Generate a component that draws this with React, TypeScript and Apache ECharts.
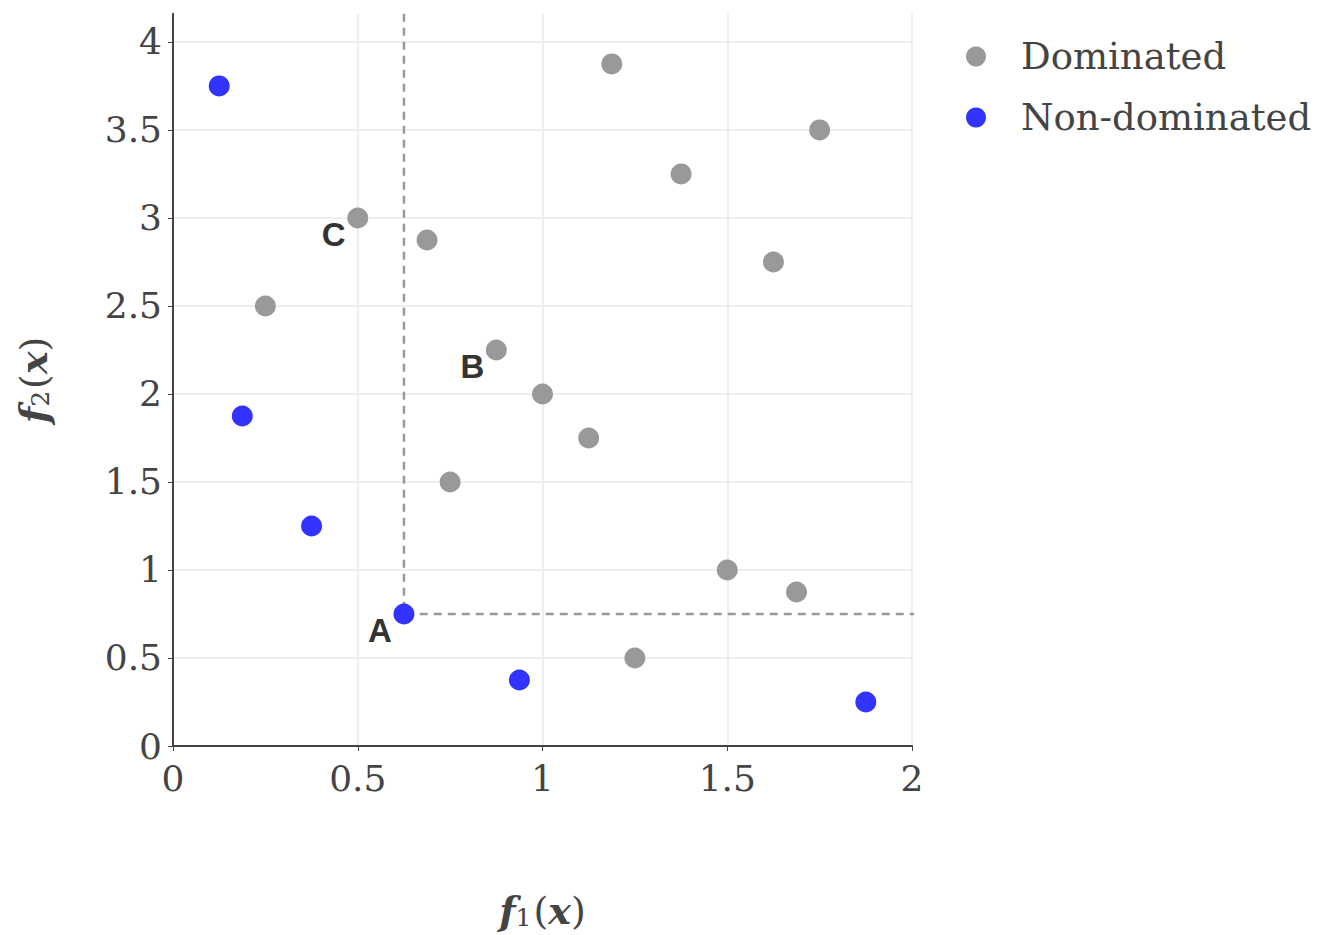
import React, { useEffect, useRef } from "react";
import * as echarts from "echarts";

const dominatedF1 = [1.1875, 1.75, 1.375, 0.5, 0.6875, 1.625, 0.25, 0.875, 1, 1.125, 0.75, 1.5, 1.6875, 1.25];
const dominatedF2 = [3.875, 3.5, 3.25, 3, 2.875, 2.75, 2.5, 2.25, 2, 1.75, 1.5, 1, 0.875, 0.5];
const nonDominatedF1 = [0.125, 0.1875, 0.375, 0.625, 0.9375, 1.875];
const nonDominatedF2 = [3.75, 1.875, 1.25, 0.75, 0.375, 0.25];
const annotationNames = ["A", "B", "C"];
const annotationF1 = [0.625, 0.875, 0.5];
const annotationF2 = [0.75, 2.25, 3];
const xTicks = [0, 0.5, 1, 1.5, 2];
const yTicks = [0, 0.5, 1, 1.5, 2, 2.5, 3, 3.5, 4];
const xMax = 2;
const yMax = 4.16;
const boxEndX = 2.02;

const TICK_FONT = "'DejaVu Serif', 'Liberation Serif', serif";

export default function App() {
  const ref = useRef<HTMLDivElement>(null);
  useEffect(() => {
    if (!ref.current) return;
    document.body.style.margin = "0";
    const chart = echarts.init(ref.current, null, { renderer: "svg" });
    const A = { x: annotationF1[0], y: annotationF2[0] };
    const nameRich = {
      i: { fontFamily: TICK_FONT, fontStyle: "italic", fontWeight: 600, fontSize: 38, color: "#444" },
      s: { fontFamily: TICK_FONT, fontSize: 25, color: "#444", verticalAlign: "bottom", padding: [14, 2, 0, 0] },
      n: { fontFamily: TICK_FONT, fontSize: 38, color: "#444" },
    };
    const labelFmt = (v: number) => (yTicks.includes(v) || xTicks.includes(v) ? String(v) : "");
    chart.setOption({
      animation: false,
      backgroundColor: "#fff",
      grid: { left: 173, right: 428, top: 13.8, bottom: 935 - 746, containLabel: false },
      legend: {
        orient: "vertical",
        left: 961,
        top: 33,
        itemWidth: 20,
        itemHeight: 20,
        itemGap: 24,
        icon: "circle",
        data: ["Dominated", "Non-dominated"],
        textStyle: { fontFamily: TICK_FONT, fontSize: 37, color: "#444", padding: [0, 0, 0, 30] },
      },
      xAxis: {
        type: "value",
        min: 0,
        max: xMax,
        interval: 0.5,
        name: "{i|f}{s|1}{n|(}{i|x}{n|)}",
        nameLocation: "middle",
        nameGap: 145,
        nameTextStyle: { rich: nameRich },
        axisLine: { show: true, onZero: false, lineStyle: { color: "#444", width: 2 } },
        axisTick: { show: true, length: 5, lineStyle: { color: "#444", width: 1 } },
        axisLabel: { fontFamily: TICK_FONT, fontSize: 36, color: "#444", margin: 14, formatter: labelFmt },
        splitLine: { show: true, lineStyle: { color: "#eee", width: 2 } },
      },
      yAxis: {
        type: "value",
        min: 0,
        max: yMax,
        interval: 0.5,
        name: "{i|f}{s|2}{n|(}{i|x}{n|)}",
        nameLocation: "middle",
        nameGap: 120,
        nameRotate: 90,
        nameTextStyle: { rich: nameRich },
        axisLine: { show: true, onZero: false, lineStyle: { color: "#444", width: 2 } },
        axisTick: { show: true, length: 5, lineStyle: { color: "#444", width: 1 } },
        axisLabel: { fontFamily: TICK_FONT, fontSize: 36, color: "#444", margin: 11, formatter: labelFmt, showMaxLabel: false },
        splitLine: { show: true, showMaxLine: false, lineStyle: { color: "#eee", width: 2 } },
      },
      series: [
        {
          name: "box",
          type: "line",
          data: [
            [A.x, yMax],
            [A.x, A.y],
            [boxEndX, A.y],
          ],
          clip: false,
          symbol: "none",
          lineStyle: { color: "#999", width: 2.5, type: [8, 6] },
          z: 1,
          silent: true,
        },
        {
          name: "Dominated",
          type: "scatter",
          symbolSize: 21,
          itemStyle: { color: "#999999", opacity: 1 },
          data: dominatedF1.map((x, i) => [x, dominatedF2[i]]),
          z: 2,
        },
        {
          name: "Non-dominated",
          type: "scatter",
          symbolSize: 21,
          itemStyle: { color: "#3333ff", opacity: 1 },
          data: nonDominatedF1.map((x, i) => [x, nonDominatedF2[i]]),
          z: 3,
        },
        {
          name: "labels",
          type: "scatter",
          symbolSize: 0,
          itemStyle: { opacity: 1 },
          data: annotationNames.map((n, i) => ({ name: n, value: [annotationF1[i], annotationF2[i]] })),
          label: {
            show: true,
            position: "inside",
            offset: [-24, 17],
            formatter: (p: any) => p.name,
            fontFamily: "'Liberation Sans', Arial, sans-serif",
            fontWeight: "bold",
            fontSize: 33,
            color: "#333",
          },
          z: 4,
          silent: true,
        },
      ],
    });
    return () => chart.dispose();
  }, []);
  return <div ref={ref} style={{ width: 1340, height: 935 }} />;
}
